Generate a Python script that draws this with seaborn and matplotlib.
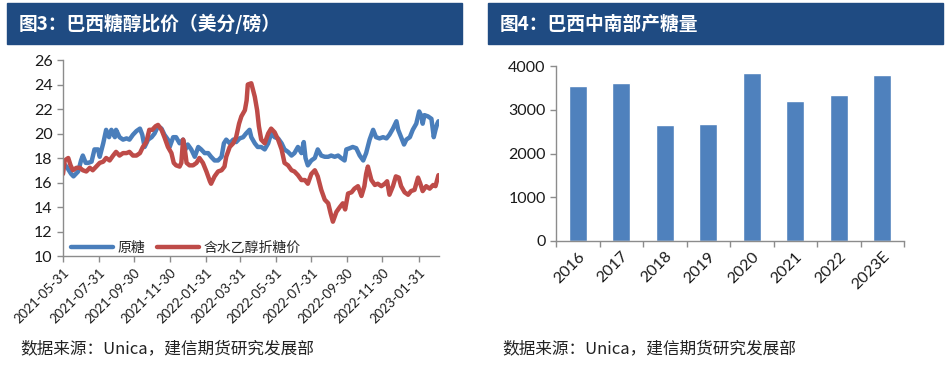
from __future__ import annotations

import matplotlib
matplotlib.use("Agg")
import matplotlib.pyplot as plt
import pandas as pd
import seaborn as sns
from matplotlib.patches import Rectangle

# ---- 数据 ----
START_DATE = "2021-05-31"

# 原糖 (美分/磅): 距 2021-05-31 的天数, 价格
raw_days = [0, 6, 14, 18, 26, 31, 34, 39, 43, 49, 54, 60, 63, 69, 74, 79, 83, 89, 91, 97,
            103, 109, 114, 120, 126, 132, 136, 140, 146, 152, 157, 163, 169, 174, 180, 183,
            189, 194, 200, 206, 210, 214, 220, 226, 232, 237, 243, 249, 254, 260, 266, 272,
            276, 280, 286, 292, 297, 303, 309, 314, 320, 323, 329, 334, 340, 346, 352, 357,
            363, 369, 375, 380, 386, 392, 397, 403, 409, 413, 416, 420, 426, 432, 437, 443,
            449, 455, 460, 466, 472, 477, 483, 486, 492, 497, 503, 509, 515, 520, 526, 532,
            537, 543, 549, 555, 560, 566, 572, 575, 580, 585, 589, 595, 600, 606, 611, 615,
            617, 620, 626, 632, 635, 636, 639, 642, 644]
raw_sugar = [17.6, 17.3, 16.7, 16.5, 16.9, 17.8, 18.2, 17.6, 17.6, 17.7, 18.7, 18.7, 18.1,
             19.2, 20.3, 19.7, 20.3, 19.7, 20.3, 19.7, 19.5, 19.6, 19.5, 19.9, 20.2, 20.4,
             19.9, 18.9, 19.5, 19.7, 20.0, 20.6, 20.4, 19.9, 19.5, 18.9, 19.7, 19.7, 19.2,
             19.5, 18.7, 19.1, 18.7, 18.1, 18.9, 18.7, 18.4, 18.4, 18.1, 17.8, 17.8, 18.1,
             19.2, 19.5, 19.2, 19.5, 19.3, 19.6, 19.7, 20.0, 20.3, 19.7, 19.2, 18.9, 18.9,
             18.7, 19.2, 20.0, 19.7, 19.6, 19.2, 18.7, 18.5, 18.2, 18.4, 18.9, 18.4, 19.3,
             18.0, 17.4, 17.8, 18.0, 18.7, 18.2, 18.1, 18.1, 18.2, 18.1, 18.2, 18.0, 17.8,
             18.7, 18.8, 18.9, 18.8, 18.2, 17.8, 18.4, 19.5, 20.3, 19.7, 19.6, 19.7, 19.6,
             19.9, 20.4, 21.0, 20.3, 19.7, 19.1, 19.5, 19.7, 20.3, 20.8, 21.8, 21.4, 20.8,
             21.5, 21.4, 21.2, 20.1, 19.7, 20.3, 20.8, 21.0]

# 含水乙醇折糖价
eth_days = [0, 3, 9, 13, 17, 23, 29, 34, 40, 46, 51, 57, 63, 69, 74, 80, 86, 91, 97, 103,
            109, 114, 120, 126, 132, 137, 143, 148, 153, 159, 163, 169, 174, 180, 186, 190,
            194, 200, 203, 206, 209, 212, 217, 223, 229, 234, 240, 246, 252, 254, 260, 266,
            272, 277, 280, 286, 292, 297, 302, 306, 312, 315, 317, 323, 329, 333, 336, 340,
            346, 352, 357, 363, 369, 375, 380, 386, 392, 397, 403, 409, 415, 420, 426, 432,
            437, 443, 449, 455, 459, 463, 469, 475, 480, 484, 489, 495, 500, 506, 512, 517,
            520, 523, 529, 535, 540, 546, 552, 556, 560, 566, 571, 576, 580, 586, 592, 597,
            603, 609, 613, 617, 623, 629, 635, 639, 644]
eth_sugar = [16.7, 17.8, 18.0, 17.4, 17.0, 17.2, 17.2, 17.0, 16.9, 17.2, 17.0, 17.3, 17.6,
             17.7, 18.0, 17.8, 18.2, 18.5, 18.2, 18.4, 18.4, 18.5, 18.2, 18.2, 18.4, 18.9,
             19.3, 20.3, 20.3, 20.6, 20.7, 20.3, 19.7, 18.9, 18.4, 17.6, 17.4, 17.3, 17.6,
             19.5, 18.7, 17.6, 17.4, 17.4, 17.6, 18.0, 17.6, 16.9, 16.1, 15.9, 16.5, 16.9,
             17.0, 17.3, 18.1, 18.9, 19.2, 19.7, 20.8, 21.4, 21.9, 22.7, 24.0, 24.1, 23.0,
             21.9, 20.6, 19.5, 19.2, 20.0, 20.4, 20.1, 19.5, 18.7, 17.6, 17.4, 17.0, 16.9,
             16.6, 16.2, 16.2, 15.9, 16.7, 17.0, 16.5, 15.4, 14.6, 14.3, 13.5, 12.8, 13.6,
             14.0, 14.3, 13.8, 15.1, 15.2, 15.5, 15.7, 14.9, 15.7, 16.7, 17.3, 16.2, 15.8,
             15.9, 15.7, 15.9, 16.1, 15.0, 15.7, 16.5, 16.4, 15.7, 15.2, 15.0, 15.3, 15.4,
             16.4, 15.9, 15.3, 15.7, 15.5, 15.8, 15.7, 16.6]

date_ticks = ["2021-05-31", "2021-07-31", "2021-09-30", "2021-11-30", "2022-01-31",
              "2022-03-31", "2022-05-31", "2022-07-31", "2022-09-30", "2022-11-30",
              "2023-01-31"]

years = ["2016", "2017", "2018", "2019", "2020", "2021", "2022", "2023E"]
output = [3550, 3600, 2645, 2670, 3840, 3195, 3345, 3795]

# ---- 样式 ----
BLUE = "#4a7ebb"
RED = "#be4b48"
BAR = "#4f81bd"
HEAD = "#1f4b82"
AXIS = "#8c8c8c"
CJK = ["Noto Sans CJK SC", "DejaVu Sans"]

sns.set_style("ticks")
plt.rcParams["font.family"] = ["Lato", "Noto Sans CJK SC", "DejaVu Sans"]
plt.rcParams["axes.unicode_minus"] = False

W, H = 952, 372
fig = plt.figure(figsize=(W / 100, H / 100), dpi=100)


def fx(px):
    return px / W


def fy(py):
    return 1 - py / H


def style_axis(ax):
    sns.despine(ax=ax)
    for side in ("left", "bottom"):
        ax.spines[side].set_color(AXIS)
        ax.spines[side].set_linewidth(1.0)
    ax.tick_params(axis="both", colors=AXIS, length=4, width=1.0, labelcolor="#1a1a1a")


# 标题栏
for x0, x1, title in [(7, 462, "图3：巴西糖醇比价（美分/磅）"), (488, 943, "图4：巴西中南部产糖量")]:
    fig.patches.append(Rectangle((fx(x0), fy(44)), fx(x1 - x0), 41 / H,
                                 transform=fig.transFigure, color=HEAD, zorder=0))
    fig.text(fx(x0 + 12), fy(24), title, color="white", fontsize=13.5, fontweight="bold",
             family=CJK, va="center", ha="left")

# ---- 左图: 糖醇比价 ----
ax1 = fig.add_axes([fx(63), fy(256), fx(439 - 63), (256 - 60) / H])
start = pd.Timestamp(START_DATE)
df_raw = pd.DataFrame({"date": start + pd.to_timedelta(raw_days, unit="D"), "price": raw_sugar,
                       "series": "原糖"})
df_eth = pd.DataFrame({"date": start + pd.to_timedelta(eth_days, unit="D"), "price": eth_sugar,
                       "series": "含水乙醇折糖价"})
df = pd.concat([df_raw, df_eth], ignore_index=True)
sns.lineplot(data=df, x="date", y="price", hue="series", palette=[BLUE, RED],
             linewidth=3.2, ax=ax1, estimator=None, sort=False)
ax1.set_ylim(10, 26)
ax1.set_yticks(range(10, 27, 2))
ax1.set_xlim(start, start + pd.Timedelta(days=645))
ax1.set_xticks(pd.to_datetime(date_ticks))
ax1.set_xticklabels(date_ticks, rotation=45, ha="right", rotation_mode="anchor", fontsize=9.5)
ax1.tick_params(axis="y", labelsize=11.5)
ax1.set_xlabel("")
ax1.set_ylabel("")
style_axis(ax1)
ax1.legend(loc="lower left", bbox_to_anchor=(0.0, -0.035), ncol=2, frameon=False,
           prop={"family": CJK, "size": 10}, handlelength=3.0, columnspacing=0.9,
           handletextpad=0.3, borderaxespad=0.2)

# ---- 右图: 产糖量 ----
ax2 = fig.add_axes([fx(556), fy(241), fx(904 - 556), (241 - 66) / H])
bars = pd.DataFrame({"year": years, "output": output})
sns.barplot(data=bars, x="year", y="output", color=BAR, width=0.41, saturation=1, ax=ax2)
ax2.set_xlim(-0.5, len(years) - 0.5)
ax2.set_ylim(0, 4000)
ax2.set_yticks(range(0, 4001, 1000))
ax2.set_xticks([i - 0.5 for i in range(len(years) + 1)], minor=True)
ax2.tick_params(axis="x", which="major", length=0, labelsize=11.5, pad=6)
ax2.tick_params(axis="x", which="minor", length=4, width=1.0, color=AXIS)
ax2.tick_params(axis="y", labelsize=11.5)
for lab in ax2.get_xticklabels():
    lab.set_rotation(45)
    lab.set_ha("right")
    lab.set_rotation_mode("anchor")
ax2.set_xlabel("")
ax2.set_ylabel("")
style_axis(ax2)
ax2.tick_params(axis="x", which="major", length=0)

# 数据来源
for x0 in (20, 502):
    fig.text(fx(x0), fy(349), "数据来源：Unica，建信期货研究发展部", fontsize=12,
             family=CJK, style="italic", color="#222222", va="center", ha="left")

fig.savefig("out.png", dpi=100)
